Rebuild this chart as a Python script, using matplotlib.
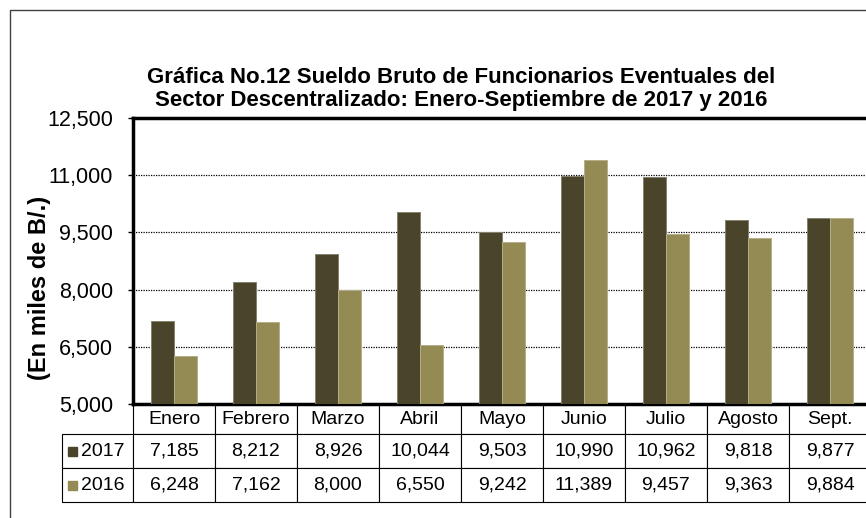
import matplotlib.pyplot as plt
from matplotlib.patches import Rectangle

plt.rcParams['font.family'] = ['Liberation Sans', 'DejaVu Sans']

meses = ['Enero', 'Febrero', 'Marzo', 'Abril', 'Mayo', 'Junio', 'Julio', 'Agosto', 'Sept.']
v2017 = [7185, 8212, 8926, 10044, 9503, 10990, 10962, 9818, 9877]
v2016 = [6248, 7162, 8000, 6550, 9242, 11389, 9457, 9363, 9884]
yticks = [5000, 6500, 8000, 9500, 11000, 12500]

C17 = '#4a452a'
C16 = '#948a54'

W, H = 866, 518
fig = plt.figure(figsize=(W / 100, H / 100), dpi=100)

# marco exterior del grafico
fig.add_artist(Rectangle((10 / W, -0.1), 1.2, 1.1 - 10 / H, transform=fig.transFigure,
                         fill=False, edgecolor='#404040', linewidth=1))

# area de trazado en pixeles
L, R, T, B = 133, 871, 118, 404
ax = fig.add_axes([L / W, 1 - B / H, (R - L) / W, (B - T) / H])

x = list(range(len(meses)))
bw = 0.284
ax.bar([i - bw / 2 for i in x], v2017, bw, color=C17, edgecolor='#85826f', linewidth=0.7, zorder=3)
ax.bar([i + bw / 2 for i in x], v2016, bw, color=C16, edgecolor='#b5ae8a', linewidth=0.7, zorder=3)

ax.set_xlim(-0.5, len(meses) - 0.5)
ax.set_ylim(yticks[0], yticks[-1])
ax.set_yticks(yticks)
ax.set_yticklabels([f'{v:,}' for v in yticks], fontsize=15.5)
ax.tick_params(axis='y', length=3.6, width=1, direction='out', pad=10.8)
ax.set_xticks([])
ax.grid(axis='y', color='black', linestyle=(0, (1, 1)), linewidth=0.9, zorder=1)
for s in ['top', 'left', 'bottom', 'right']:
    ax.spines[s].set_linewidth(2.5)

# tabla de datos (primera columna = leyenda)
hdr, rh = 30, 34
tab_left = 62
filas = [[''] + [f'{v:,}' for v in v2017], [''] + [f'{v:,}' for v in v2016]]
tbl = ax.table(cellText=filas, colLabels=[''] + meses, cellLoc='center',
               colWidths=[L - tab_left] + [(R - L) / len(meses)] * len(meses),
               bbox=[(tab_left - L) / (R - L), -(hdr + 2 * rh) / (B - T),
                     (R - tab_left) / (R - L), (hdr + 2 * rh) / (B - T)])
tbl.auto_set_font_size(False)
for (r, c), cell in tbl.get_celld().items():
    cell.set_linewidth(0.8)
    cell.set_text_props(fontsize=14)
    cell.set_height(hdr if r == 0 else rh)
tbl[0, 0].visible_edges = ''

for k, (lab, col) in enumerate([('2017', C17), ('2016', C16)]):
    yc = B + hdr + rh * k + rh / 2
    fig.add_artist(Rectangle((68 / W, 1 - (yc + 4.5) / H), 9 / W, 9 / H,
                             transform=fig.transFigure, color=col))
    fig.text(81 / W, 1 - yc / H, lab, fontsize=14, ha='left', va='center')

fig.text(461 / W, 1 - 89 / H,
         'Gráfica No.12 Sueldo Bruto de Funcionarios Eventuales del\n'
         'Sector Descentralizado: Enero-Septiembre de 2017 y 2016',
         ha='center', va='center', fontsize=16, fontweight='bold', linespacing=1.15)

fig.text(40 / W, 1 - 288 / H, '(En miles de B/.)', rotation=90, ha='center', va='center',
         fontsize=17, fontweight='bold')

fig.savefig('out.png', dpi=100)
